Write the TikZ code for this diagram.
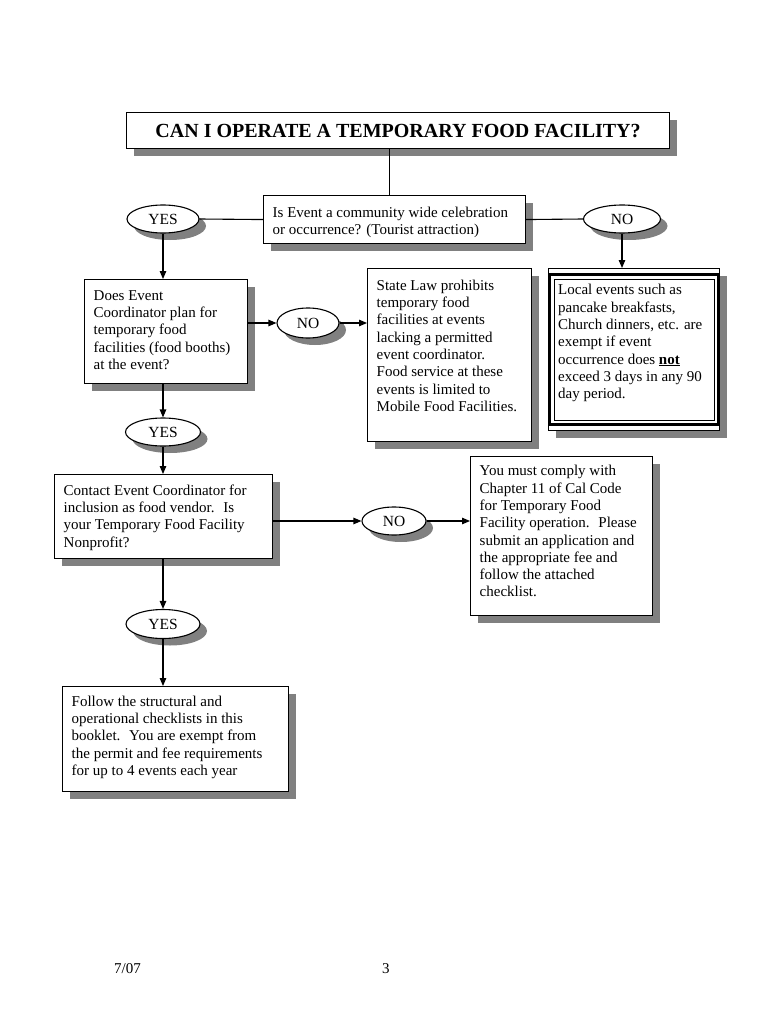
\documentclass[tikz,border=0pt]{standalone}
\usepackage{fontspec}
\setmainfont{Liberation Serif}
\usetikzlibrary{shadows,arrows.meta,shapes.geometric}
\begin{document}
\begin{tikzpicture}[x=1pt,y=-1pt,
  shad/.style={drop shadow={shadow xshift=7.5pt,shadow yshift=-7.5pt,fill=black!50,opacity=1}},
  oshad/.style={drop shadow={shadow xshift=7pt,shadow yshift=-7pt,fill=black!50,opacity=1}},
  box/.style={draw,line width=1.1pt,fill=white,inner sep=0pt,shad,anchor=north west},
  oval/.style={ellipse,draw,line width=1.1pt,fill=white,inner sep=0pt,minimum height=28pt,oshad,font=\fontsize{15.5}{17.25}\selectfont},
  txt/.style={anchor=north west,inner sep=0pt,align=left,font=\fontsize{15}{17.3}\selectfont},
  arr/.style={-{Triangle[length=8pt,width=6.5pt]},line width=1.1pt},
  ln/.style={line width=1.1pt}
]
\useasboundingbox (0,0) rectangle (770,1024);
\fill[white] (0,0) rectangle (770,1024);

% title
\node[box,minimum width=543pt,minimum height=36pt,font=\bfseries\fontsize{20}{24}\selectfont] (title) at (126,112) {CAN I OPERATE A TEMPORARY FOOD FACILITY?};

% question box
\node[box,minimum width=262pt,minimum height=48pt] (q) at (263,195) {};
\node[txt] (qt) at (272.5,205) {\strut Is Event a community wide celebration\\or occurrence? (Tourist attraction)};

\node[oval,minimum width=72pt] (yes1) at (163,219) {YES};
\node[oval,minimum width=77pt] (no1) at (622,219) {NO};

% box 2
\node[box,minimum width=163pt,minimum height=104pt] (b2) at (84,279) {};
\node[txt] (b2t) at (93.5,288) {\strut Does Event\\Coordinator plan for\\temporary food\\facilities (food booths)\\at the event?};

\node[oval,minimum width=62pt,minimum height=30pt] (no2) at (308,323) {NO};

% state law box
\node[box,minimum width=164pt,minimum height=173pt] (sl) at (367,268) {};
\node[txt] (slt) at (376.5,278) {\strut State Law prohibits\\temporary food\\facilities at events\\lacking a permitted\\event coordinator.\\Food service at these\\events is limited to\\Mobile Food Facilities.};

% local events box
\node[box,minimum width=171pt,minimum height=162pt] (loc) at (548,268) {};
\draw[line width=3.5pt] ([shift={(1.5,6.5)}]loc.north west) rectangle ([shift={(-1.5,-6.5)}]loc.south east);
\draw[line width=0.8pt] ([shift={(6,11)}]loc.north west) rectangle ([shift={(-6,-11)}]loc.south east);
\node[txt] (loct) at (558,282.5) {\strut Local events such as\\pancake breakfasts,\\Church dinners, etc. are\\exempt if event\\occurrence does \underline{\textbf{not}}\\exceed 3 days in any 90\\day period.};

\node[oval,minimum width=75pt] (yes2) at (163,432) {YES};

% box 4
\node[box,minimum width=218pt,minimum height=84pt] (b4) at (54,474) {};
\node[txt] (b4t) at (63.5,483) {\strut Contact Event Coordinator for\\inclusion as food vendor.~ Is\\your Temporary Food Facility\\Nonprofit?};

\node[oval,minimum width=64pt] (no3) at (394,521) {NO};

% box 5
\node[box,minimum width=182pt,minimum height=159pt] (b5) at (470,456) {};
\node[txt] (b5t) at (479.5,463.5) {\strut You must comply with\\Chapter 11 of Cal Code\\for Temporary Food\\Facility operation.~ Please\\submit an application and\\the appropriate fee and\\follow the attached\\checklist.};

\node[oval,minimum width=74pt,minimum height=29pt] (yes3) at (163,624) {YES};

% box 6
\node[box,minimum width=226pt,minimum height=105pt] (b6) at (62,686) {};
\node[txt] (b6t) at (71.5,694) {\strut Follow the structural and\\operational checklists in this\\booklet.~ You are exempt from\\the permit and fee requirements\\for up to 4 events each year};

% footer
\node[txt,anchor=base west] (foot1) at (114,973) {7/07};
\node[txt,anchor=base west] (foot2) at (382,973) {3};

% connectors
\draw[ln] ([xshift=-8.5pt]title.south) -- ([xshift=-8.5pt]title.south |- q.north);
\draw[ln] (yes1.east) -- (q.west);
\draw[ln] (q.east) -- (no1.west);
\draw[arr] (yes1.south) -- (yes1.south |- b2.north);
\draw[arr] (no1.south) -- (no1.south |- loc.north);
\draw[arr] (no2.west -| b2.east) -- (no2.west);
\draw[arr] (no2.east) -- (no2.east -| sl.west);
\draw[arr] (yes2.north |- b2.south) -- (yes2.north);
\draw[arr] (yes2.south) -- (yes2.south |- b4.north);
\draw[arr] (no3.west -| b4.east) -- (no3.west);
\draw[arr] (no3.east) -- (no3.east -| b5.west);
\draw[arr] (yes3.north |- b4.south) -- (yes3.north);
\draw[arr] (yes3.south) -- (yes3.south |- b6.north);
\end{tikzpicture}
\end{document}
